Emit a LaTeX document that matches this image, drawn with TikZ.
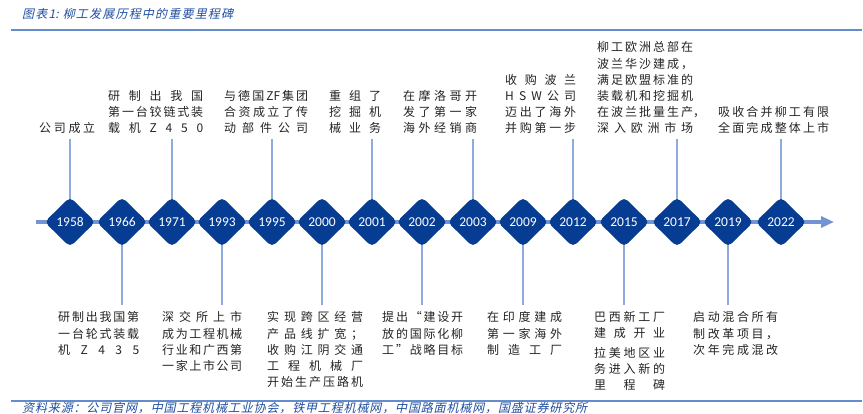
\documentclass[tikz,border=0pt]{standalone}
\usepackage{fontspec}
\setmainfont{Carlito}
\newfontfamily\cjk{Noto Sans CJK SC}
\newfontfamily\cjkit{Noto Sans CJK SC}[FakeSlant=0.22]
\newfontfamily\yrfont{Carlito}
\usetikzlibrary{shapes.geometric,arrows.meta,backgrounds}
\definecolor{dblue}{RGB}{6,60,146}
\definecolor{tlblue}{RGB}{114,148,212}
\definecolor{cblue}{RGB}{143,170,220}
\definecolor{rblue}{RGB}{100,140,205}
\definecolor{ttblue}{RGB}{31,78,160}
\definecolor{txtc}{RGB}{35,35,35}
\makeatletter
\def\spr#1{\spr@a#1\spr@end}
\def\spr@a#1{#1\futurelet\spr@next\spr@b}
\def\spr@b{\ifx\spr@next\spr@end\expandafter\spr@stop\else\expandafter\spr@c\fi}
\def\spr@c{\hfil\spr@a}
\def\spr@stop\spr@end{}
\def\spr@end{\spr@end}
\makeatother
\tikzset{
  txt/.style={inner sep=0pt, text height=10pt, text depth=2pt, text=txtc,
    font={\cjk\fontsize{12pt}{14pt}\selectfont}},
  dia/.style={diamond, aspect=1, minimum width=51pt, minimum height=50pt, inner sep=0pt,
    fill=dblue, rounded corners=5pt, text=white, font={\yrfont\fontsize{13.5pt}{15pt}\selectfont}},
  conn/.style={draw=cblue, line width=1.4pt},
  tline/.style={draw=tlblue, line width=3.5pt, -{Triangle[length=13pt,width=11pt]}},
  rulestyle/.style={draw=rblue, line width=1.6pt},
  captxt/.style={inner sep=0pt, anchor=west, text=ttblue, text height=10pt, text depth=2pt,
    font={\cjkit\fontsize{12pt}{14pt}\selectfont}}
}
% name, xleft, y of first line, width, lines
\newcommand\tblock[5]{%
  \foreach \t [count=\i from 0] in {#5} {
    \node[txt, anchor=west] (#1-\i) at (#2, #3+16.2*\i)
      {\makebox[#4pt][s]{\expandafter\spr\expandafter{\t}}};
  }}
\begin{document}
\begin{tikzpicture}[x=1pt,y=-1pt]
\useasboundingbox (0,0) rectangle (863,414);
% title and rules
\node[captxt] (title) at (22,15) {\makebox[211pt][s]{\spr{图表{1:\hspace{3pt}}柳工发展历程中的重要里程碑}}};
\coordinate (rt1) at (11,30); \coordinate (rt2) at (862,30);
\draw[rulestyle] (rt1) -- (rt2);
\coordinate (rb1) at (11,400.8); \coordinate (rb2) at (862,400.8);
\draw[rulestyle] (rb1) -- (rb2);
\node[captxt] (source) at (22,409) {\makebox[565pt][s]{\spr{资料来源：公司官网，中国工程机械工业协会，铁甲工程机械网，中国路面机械网，国盛证券研究所}}};
% diamonds
\foreach \yy/\xx in {1958/70,1966/122,1971/172,1993/222,1995/272,2000/322,2001/372,2002/422,2003/473,2009/523,2012/573,2015/624,2017/677,2019/728,2022/781}
  \node[dia] (d\yy) at (\xx,222) {\yy};
% timeline and connectors
\begin{scope}[on background layer]
  \coordinate (tls) at (36,222); \coordinate (tle) at (834,222);
  \draw[tline] (tls) -- (tle);
  \foreach \yy/\xx in {1958/70,1971/172,1995/272,2001/372,2003/473,2012/573,2017/677,2022/781}{
    \coordinate (ct\yy) at (\xx,139);
    \draw[conn] (ct\yy) -- (d\yy.center);
  }
  \foreach \yy/\xx in {1966/122,1993/222,2000/322,2002/422,2009/523,2015/624,2019/728}{
    \coordinate (cb\yy) at (\xx,305);
    \draw[conn] (d\yy.center) -- (cb\yy);
  }
\end{scope}
% upper texts
\tblock{t1958}{39}{129}{56}{公司成立}
\tblock{t1971}{108}{96.6}{95}{研制出我国,第一台铰链式装,载机Z450}
\tblock{t1995}{224}{96.6}{84}{与德国{ZF}集团,合资成立了传,动部件公司}
\tblock{t2001}{329}{96.6}{52}{重组了,挖掘机,械业务}
\tblock{t2003}{403}{96.6}{74}{在摩洛哥开,发了第一家,海外经销商}
\tblock{t2012}{505}{80.4}{71}{收购波兰,HSW公司,迈出了海外,并购第一步}
\tblock{t2017}{597}{48}{96}{柳工欧洲总部在,波兰华沙建成，,满足欧盟标准的,装载机和挖掘机,在波兰批量生产,深入欧洲市场}
\node[txt, anchor=west] (t2017c) at (693,112.8) {，};
\tblock{t2022}{718}{112.8}{111}{吸收合并柳工有限,全面完成整体上市}
% lower texts
\tblock{b1966}{58}{318}{81}{研制出我国第,一台轮式装载,机Z435}
\tblock{b1993}{162}{318}{80}{深交所上市,成为工程机械,行业和广西第,一家上市公司}
\tblock{b2000}{267}{318}{96}{实现跨区经营,产品线扩宽；,收购江阴交通,工程机械厂,开始生产压路机}
\tblock{b2002}{382}{318}{81}{提出“建设开,放的国际化柳,工”战略目标}
\tblock{b2009}{487}{318}{75}{在印度建成,第一家海外,制造工厂}
\tblock{b2015}{594}{317.5}{71}{巴西新工厂,建成开业}
\tblock{b2015b}{594}{353}{71}{拉美地区业,务进入新的,里程碑}
\tblock{b2019}{693}{318}{85}{启动混合所有,制改革项目，,次年完成混改}
\end{tikzpicture}
\end{document}
